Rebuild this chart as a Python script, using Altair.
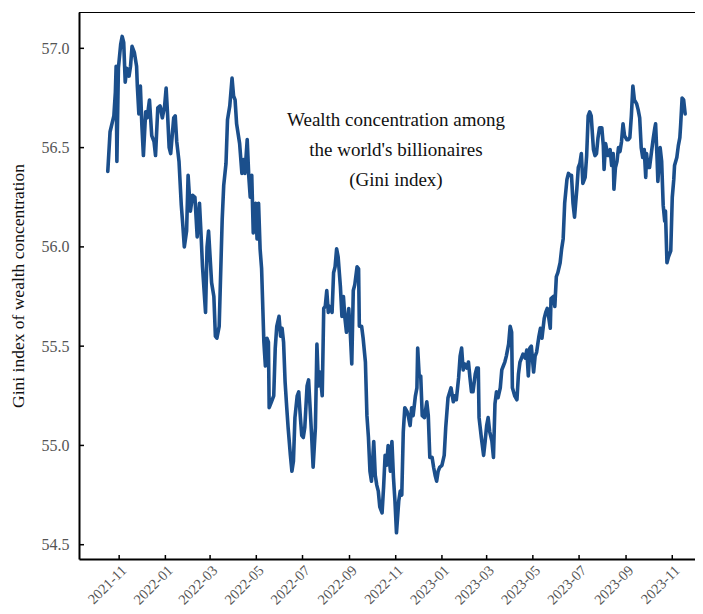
import altair as alt
import pandas as pd

# ---------------- data ----------------
start_date = "2021-11-01"

# days after 2021-11-01 of each point of the series
day_offset = [
    -15, -12, -7, -5, -4, -3, -1, 2, 4, 6,
    8, 10, 13, 15, 17, 20, 23, 24, 26, 28,
    30, 32, 35, 37, 40, 43, 46, 48, 51, 54,
    57, 60, 62, 64, 66, 68, 72, 74, 76, 79,
    82, 84, 86, 89, 91, 94, 97, 100, 103, 106,
    108, 110, 114, 116, 118, 122, 125, 127, 129, 132,
    136, 138, 141, 143, 146, 149, 151, 153, 155, 159,
    162, 164, 166, 169, 171, 173, 175, 177, 180, 182,
    184, 186, 188, 191, 193, 195, 197, 198, 201, 204,
    206, 208, 211, 213, 215, 217, 219, 221, 223, 226,
    228, 230, 232, 235, 237, 239, 241, 243, 245, 248,
    250, 252, 254, 256, 259, 261, 263, 265, 268, 270,
    272, 274, 276, 278, 281, 283, 285, 287, 289, 292,
    294, 296, 298, 300, 303, 305, 307, 309, 311, 314,
    316, 317, 320, 322, 325, 327, 329, 331, 333, 336,
    338, 340, 342, 344, 347, 349, 351, 353, 355, 358,
    360, 362, 364, 366, 369, 371, 373, 375, 377, 380,
    382, 384, 386, 388, 391, 393, 394, 396, 398, 400,
    403, 406, 408, 410, 413, 415, 417, 419, 421, 423,
    426, 429, 431, 434, 438, 441, 443, 445, 448, 450,
    452, 454, 456, 459, 461, 463, 465, 467, 470, 472,
    474, 475, 478, 481, 483, 485, 487, 489, 492, 494,
    496, 498, 500, 503, 505, 507, 509, 511, 514, 516,
    518, 519, 522, 525, 527, 529, 531, 533, 536, 538,
    540, 542, 544, 547, 549, 551, 554, 556, 558, 561,
    563, 565, 566, 569, 570, 573, 575, 577, 579, 582,
    584, 586, 588, 591, 593, 595, 597, 599, 601, 604,
    606, 608, 610, 612, 615, 617, 619, 621, 623, 626,
    628, 630, 632, 634, 637, 639, 640, 642, 644, 645,
    648, 650, 652, 653, 655, 657, 659, 661, 663, 665,
    667, 670, 672, 674, 676, 678, 680, 683, 685, 687,
    689, 691, 693, 695, 696, 698, 700, 703, 705, 707,
    708, 710, 711, 714, 716, 718, 720, 721, 723, 725,
    728, 730, 732, 733, 736, 738, 740, 741, 743, 745, 747,
]

gini = [
    56.38, 56.58, 56.66, 56.78, 56.91, 56.43, 56.90, 57.02, 57.06, 57.03,
    56.83, 56.90, 56.86, 56.91, 57.01, 56.98, 56.91, 56.81, 56.67, 56.81,
    56.61, 56.46, 56.68, 56.65, 56.74, 56.56, 56.53, 56.46, 56.70, 56.71,
    56.65, 56.71, 56.80, 56.66, 56.50, 56.47, 56.65, 56.66, 56.53, 56.43,
    56.21, 56.11, 56.00, 56.08, 56.36, 56.18, 56.26, 56.25, 56.05, 56.22,
    56.07, 55.90, 55.67, 56.00, 56.08, 55.82, 55.75, 55.55, 55.54, 55.60,
    56.14, 56.31, 56.42, 56.64, 56.71, 56.85, 56.76, 56.74, 56.62, 56.52,
    56.37, 56.44, 56.37, 56.54, 56.36, 56.25, 56.36, 56.07, 56.22, 56.04,
    56.22, 55.99, 55.89, 55.52, 55.40, 55.54, 55.52, 55.19, 55.22, 55.25,
    55.49, 55.60, 55.65, 55.55, 55.59, 55.52, 55.32, 55.20, 55.09, 54.95,
    54.87, 54.92, 55.14, 55.25, 55.27, 55.15, 55.05, 55.04, 55.09, 55.30,
    55.33, 55.19, 55.05, 54.89, 55.09, 55.51, 55.30, 55.37, 55.25, 55.69,
    55.70, 55.78, 55.67, 55.70, 55.67, 55.87, 55.90, 55.99, 55.95, 55.80,
    55.65, 55.75, 55.64, 55.57, 55.69, 55.57, 55.41, 55.78, 55.81, 55.90,
    55.89, 55.60, 55.60, 55.54, 55.42, 55.15, 55.04, 54.87, 54.82, 55.02,
    54.85, 54.80, 54.77, 54.69, 54.66, 54.79, 54.95, 54.90, 55.00, 54.87,
    55.02, 54.84, 54.72, 54.56, 54.72, 54.77, 54.75, 55.07, 55.19, 55.17,
    55.14, 55.10, 55.19, 55.15, 55.25, 55.29, 55.49, 55.35, 55.35, 55.15,
    55.14, 55.22, 55.15, 54.94, 54.94, 54.89, 54.85, 54.82, 54.87, 54.89,
    54.90, 54.95, 55.09, 55.24, 55.29, 55.22, 55.25, 55.23, 55.34, 55.45,
    55.49, 55.38, 55.41, 55.39, 55.42, 55.34, 55.27, 55.27, 55.36, 55.39,
    55.39, 55.14, 55.04, 54.95, 55.02, 55.10, 55.14, 55.07, 55.02, 54.94,
    55.21, 55.27, 55.24, 55.29, 55.38, 55.40, 55.42, 55.45, 55.51, 55.60,
    55.57, 55.29, 55.25, 55.23, 55.36, 55.42, 55.44, 55.46, 55.44, 55.48,
    55.35, 55.49, 55.50, 55.37, 55.45, 55.47, 55.55, 55.59, 55.54, 55.64,
    55.67, 55.69, 55.67, 55.59, 55.74, 55.75, 55.70, 55.85, 55.87, 55.92,
    55.99, 56.04, 56.22, 56.34, 56.37, 56.36, 56.36, 56.22, 56.15, 56.29,
    56.40, 56.42, 56.47, 56.32, 56.35, 56.46, 56.66, 56.68, 56.66, 56.49,
    56.46, 56.47, 56.55, 56.60, 56.60, 56.51, 56.39, 56.52, 56.48, 56.46,
    56.49, 56.41, 56.47, 56.29, 56.40, 56.43, 56.50, 56.48, 56.53, 56.62,
    56.56, 56.54, 56.54, 56.55, 56.66, 56.81, 56.74, 56.72, 56.69, 56.65,
    56.50, 56.45, 56.49, 56.35, 56.47, 56.40, 56.40, 56.49, 56.55, 56.60,
    56.62, 56.44, 56.33, 56.50, 56.43, 56.21, 56.13, 56.18, 55.92, 55.95,
    55.98, 56.25, 56.34, 56.41, 56.45, 56.51, 56.55, 56.61, 56.75, 56.74, 56.67,
]

y_ticks = [54.5, 55.0, 55.5, 56.0, 56.5, 57.0]
x_ticks = ["2021-11", "2022-01", "2022-03", "2022-05", "2022-07", "2022-09",
           "2022-11", "2023-01", "2023-03", "2023-05", "2023-07", "2023-09",
           "2023-11"]
annotation_lines = ["Wealth concentration among", "the world's billionaires", "(Gini index)"]
y_title = "Gini index of wealth concentration"

# ---------------- tables ----------------
df = pd.DataFrame({
    "date": pd.Timestamp(start_date) + pd.to_timedelta(day_offset, unit="D"),
    "gini": gini,
})
xt = pd.DataFrame({"date": pd.to_datetime([m + "-01" for m in x_ticks])})
yt = pd.DataFrame({"gini": y_ticks})
one = pd.DataFrame({"k": [0]})

# ---------------- style ----------------
W, H = 616, 547
FONT = "Liberation Serif"
LINE_COLOR = "#1b4f8c"
LABEL_COLOR = "#555555"

x_scale = alt.Scale(domain=[alt.DateTime(year=2021, month=9, date=9),
                            alt.DateTime(year=2023, month=12, date=1)])
y_scale = alt.Scale(domain=[54.428, 57.183], nice=False, zero=False)

x_axis = alt.Axis(
    values=[alt.DateTime(year=int(m[:4]), month=int(m[5:]), date=1) for m in x_ticks],
    format="%Y-%m", labelAngle=315, labelFont=FONT, labelFontSize=14.5,
    labelColor=LABEL_COLOR, labelPadding=4, labelOverlap=False, labelFlush=False,
    ticks=False, tickSize=0, grid=False, domainColor="black", domainWidth=2,
    title=None,
)
y_axis = alt.Axis(
    values=y_ticks, format=".1f", labelFont=FONT, labelFontSize=16,
    labelColor=LABEL_COLOR, labelPadding=10, labelFlush=False,
    ticks=False, tickSize=0, grid=False, domainColor="black", domainWidth=2,
    title=y_title, titleFont=FONT, titleFontSize=17.5, titleFontWeight="normal",
    titleColor="#111111", titlePadding=14,
)

line = alt.Chart(df).mark_line(
    color=LINE_COLOR, strokeWidth=3.6, strokeJoin="round", strokeCap="round"
).encode(
    x=alt.X("date:T", scale=x_scale, axis=x_axis),
    y=alt.Y("gini:Q", scale=y_scale, axis=y_axis),
)

y_tick_marks = alt.Chart(yt).mark_rule(color="black", strokeWidth=1.5).encode(
    y=alt.Y("gini:Q", scale=y_scale),
    x=alt.value(0),
    x2=alt.value(5),
)

x_tick_marks = alt.Chart(xt).mark_rule(color="black", strokeWidth=1.5).encode(
    x=alt.X("date:T", scale=x_scale),
    y=alt.value(H),
    y2=alt.value(H - 4),
)

top_border = alt.Chart(one).mark_rule(color="black", strokeWidth=1.2).encode(
    x=alt.value(0), x2=alt.value(W), y=alt.value(0.5)
)

annotation = alt.Chart(one).mark_text(
    text=annotation_lines, font=FONT, fontSize=19, lineHeight=30,
    align="center", baseline="middle", color="#111111",
).encode(x=alt.value(317), y=alt.value(108))

chart = alt.layer(line, y_tick_marks, x_tick_marks, top_border, annotation).properties(
    width=W, height=H,
    autosize=alt.AutoSizeParams(type="none"),
    padding={"left": 71, "top": 4, "right": 0, "bottom": 55},
    background="white",
).configure_view(stroke=None)

chart.save("out.html", embed_options={"renderer": "svg", "actions": False})
